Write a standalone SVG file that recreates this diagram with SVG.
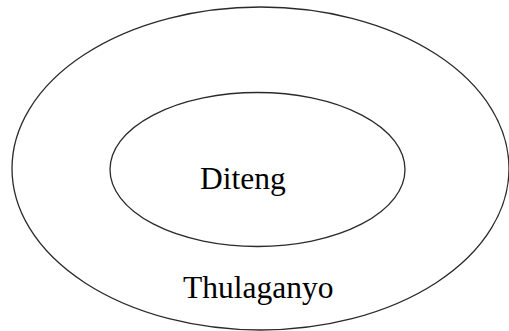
<svg xmlns="http://www.w3.org/2000/svg" width="509" height="331" viewBox="0 0 509 331">
<style>
.ring{fill:none;stroke:#2a2a2a;stroke-width:1.3}
.lbl{font-family:"Liberation Serif","Times New Roman",serif;font-size:31.5px;fill:#000}
</style>
<rect width="509" height="331" fill="#fff"/>
<g id="thulaganyo">
<ellipse class="ring" cx="260.5" cy="168.5" rx="248.5" ry="161.5"/>
<text class="lbl" x="183" y="297.5">Thulaganyo</text>
</g>
<g id="diteng">
<ellipse class="ring" cx="257.5" cy="169.5" rx="147.5" ry="77"/>
<text class="lbl" x="200" y="189">Diteng</text>
</g>
<g id="connectors"/>
</svg>
